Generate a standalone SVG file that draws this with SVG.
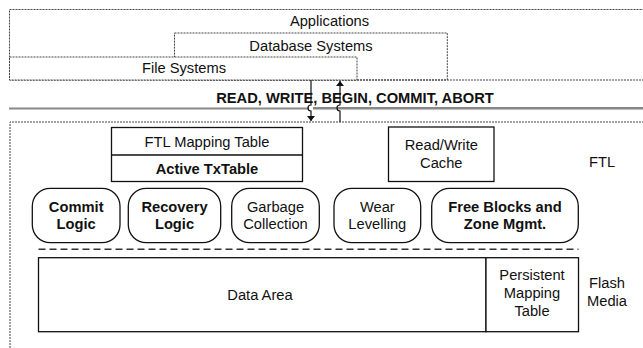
<svg xmlns="http://www.w3.org/2000/svg" width="643" height="348" viewBox="0 0 643 348">
<style>
text{font-family:"Liberation Sans",Arial,sans-serif;font-size:14.7px;fill:#111;text-anchor:middle}
.b{font-weight:bold}
.dash{fill:none;stroke:#444;stroke-width:1;stroke-dasharray:2,1}
.dashw{fill:#fff;stroke:#444;stroke-width:1;stroke-dasharray:2,1}
.box{fill:#fff;stroke:#111;stroke-width:1.3}
.rbox{fill:#fff;stroke:#111;stroke-width:1.3}
.conn{fill:none;stroke:#111;stroke-width:1.2}
</style>
<defs>
<marker id="ah" viewBox="0 0 10 10" refX="10" refY="5" markerWidth="5" markerHeight="8" markerUnits="userSpaceOnUse" orient="auto" preserveAspectRatio="none">
<path d="M0,0 L10,5 L0,10 Z" fill="#111"/>
</marker>
</defs>
<rect width="643" height="348" fill="#fff"/>

<g id="applications">
<rect class="dash" x="9.5" y="9.5" width="645" height="70.5"/>
<text x="329.5" y="25.5">Applications</text>
</g>
<g id="database-systems">
<rect class="dash" x="174.5" y="33" width="272.8" height="47"/>
<text x="311" y="50.5">Database Systems</text>
</g>
<g id="file-systems">
<rect class="dashw" x="9.5" y="57" width="347.5" height="23"/>
<text x="184" y="73">File Systems</text>
</g>

<g id="interface">
<line x1="9" y1="108.5" x2="309" y2="108.5" stroke="#888" stroke-width="2.2"/>
<line x1="313" y1="108" x2="643" y2="108" stroke="#111" stroke-width="1"/>
<line x1="313" y1="109.6" x2="643" y2="109.6" stroke="#bbb" stroke-width="1"/>
<text class="b" x="355" y="102.5">READ, WRITE, BEGIN, COMMIT, ABORT</text>
</g>

<g id="ftl-layer">
<path class="dash" d="M10,348 V122 H650"/>
<text x="602" y="166.5">FTL</text>
</g>

<g id="ftl-mapping-table">
<rect class="box" x="111.5" y="127.5" width="191" height="54"/>
<line x1="111.5" y1="155" x2="302.5" y2="155" stroke="#111" stroke-width="1.3"/>
<text x="207" y="146.5">FTL Mapping Table</text>
<text class="b" x="207" y="173.5">Active TxTable</text>
</g>

<g id="read-write-cache">
<rect class="box" x="388.5" y="127" width="105.5" height="54.5"/>
<text x="441.3" y="150">Read/Write</text>
<text x="441.3" y="167.5">Cache</text>
</g>

<g id="commit-logic">
<rect class="rbox" x="32.3" y="188.3" width="87.7" height="54.4" rx="18"/>
<text class="b" x="76.2" y="212">Commit</text>
<text class="b" x="76.2" y="229">Logic</text>
</g>
<g id="recovery-logic">
<rect class="rbox" x="128.3" y="188.3" width="92.4" height="54.4" rx="18"/>
<text class="b" x="174.5" y="212">Recovery</text>
<text class="b" x="174.5" y="229">Logic</text>
</g>
<g id="garbage-collection">
<rect class="rbox" x="231.7" y="188.3" width="87.6" height="54.4" rx="18"/>
<text x="275.5" y="212">Garbage</text>
<text x="275.5" y="229">Collection</text>
</g>
<g id="wear-levelling">
<rect class="rbox" x="334" y="188.3" width="86.7" height="54.4" rx="18"/>
<text x="377.3" y="212">Wear</text>
<text x="377.3" y="229">Levelling</text>
</g>
<g id="free-blocks">
<rect class="rbox" x="431.7" y="188.3" width="146.6" height="54.4" rx="18"/>
<text class="b" x="505" y="212">Free Blocks and</text>
<text class="b" x="505" y="229">Zone Mgmt.</text>
</g>

<line x1="38.5" y1="249.3" x2="578.5" y2="249.3" stroke="#333" stroke-width="1.4" stroke-dasharray="7,4"/>

<g id="data-area">
<rect class="box" x="38.5" y="257.7" width="447.5" height="74"/>
<text x="260" y="299.5">Data Area</text>
</g>
<g id="persistent-mapping-table">
<rect class="box" x="486" y="257.7" width="92.5" height="74"/>
<text x="532" y="279.5">Persistent</text>
<text x="532" y="297.5">Mapping</text>
<text x="532" y="315.5">Table</text>
</g>
<g id="flash-media">
<text x="607" y="287.5">Flash</text>
<text x="607" y="305.5">Media</text>
</g>

<g id="connectors">
<path class="conn" d="M311,80 V105 A3,3 0 0 0 311,111 V121" marker-end="url(#ah)"/>
<path class="conn" d="M340,122 V111 A3,3 0 0 1 340,105 V81" marker-end="url(#ah)"/>
</g>
</svg>
